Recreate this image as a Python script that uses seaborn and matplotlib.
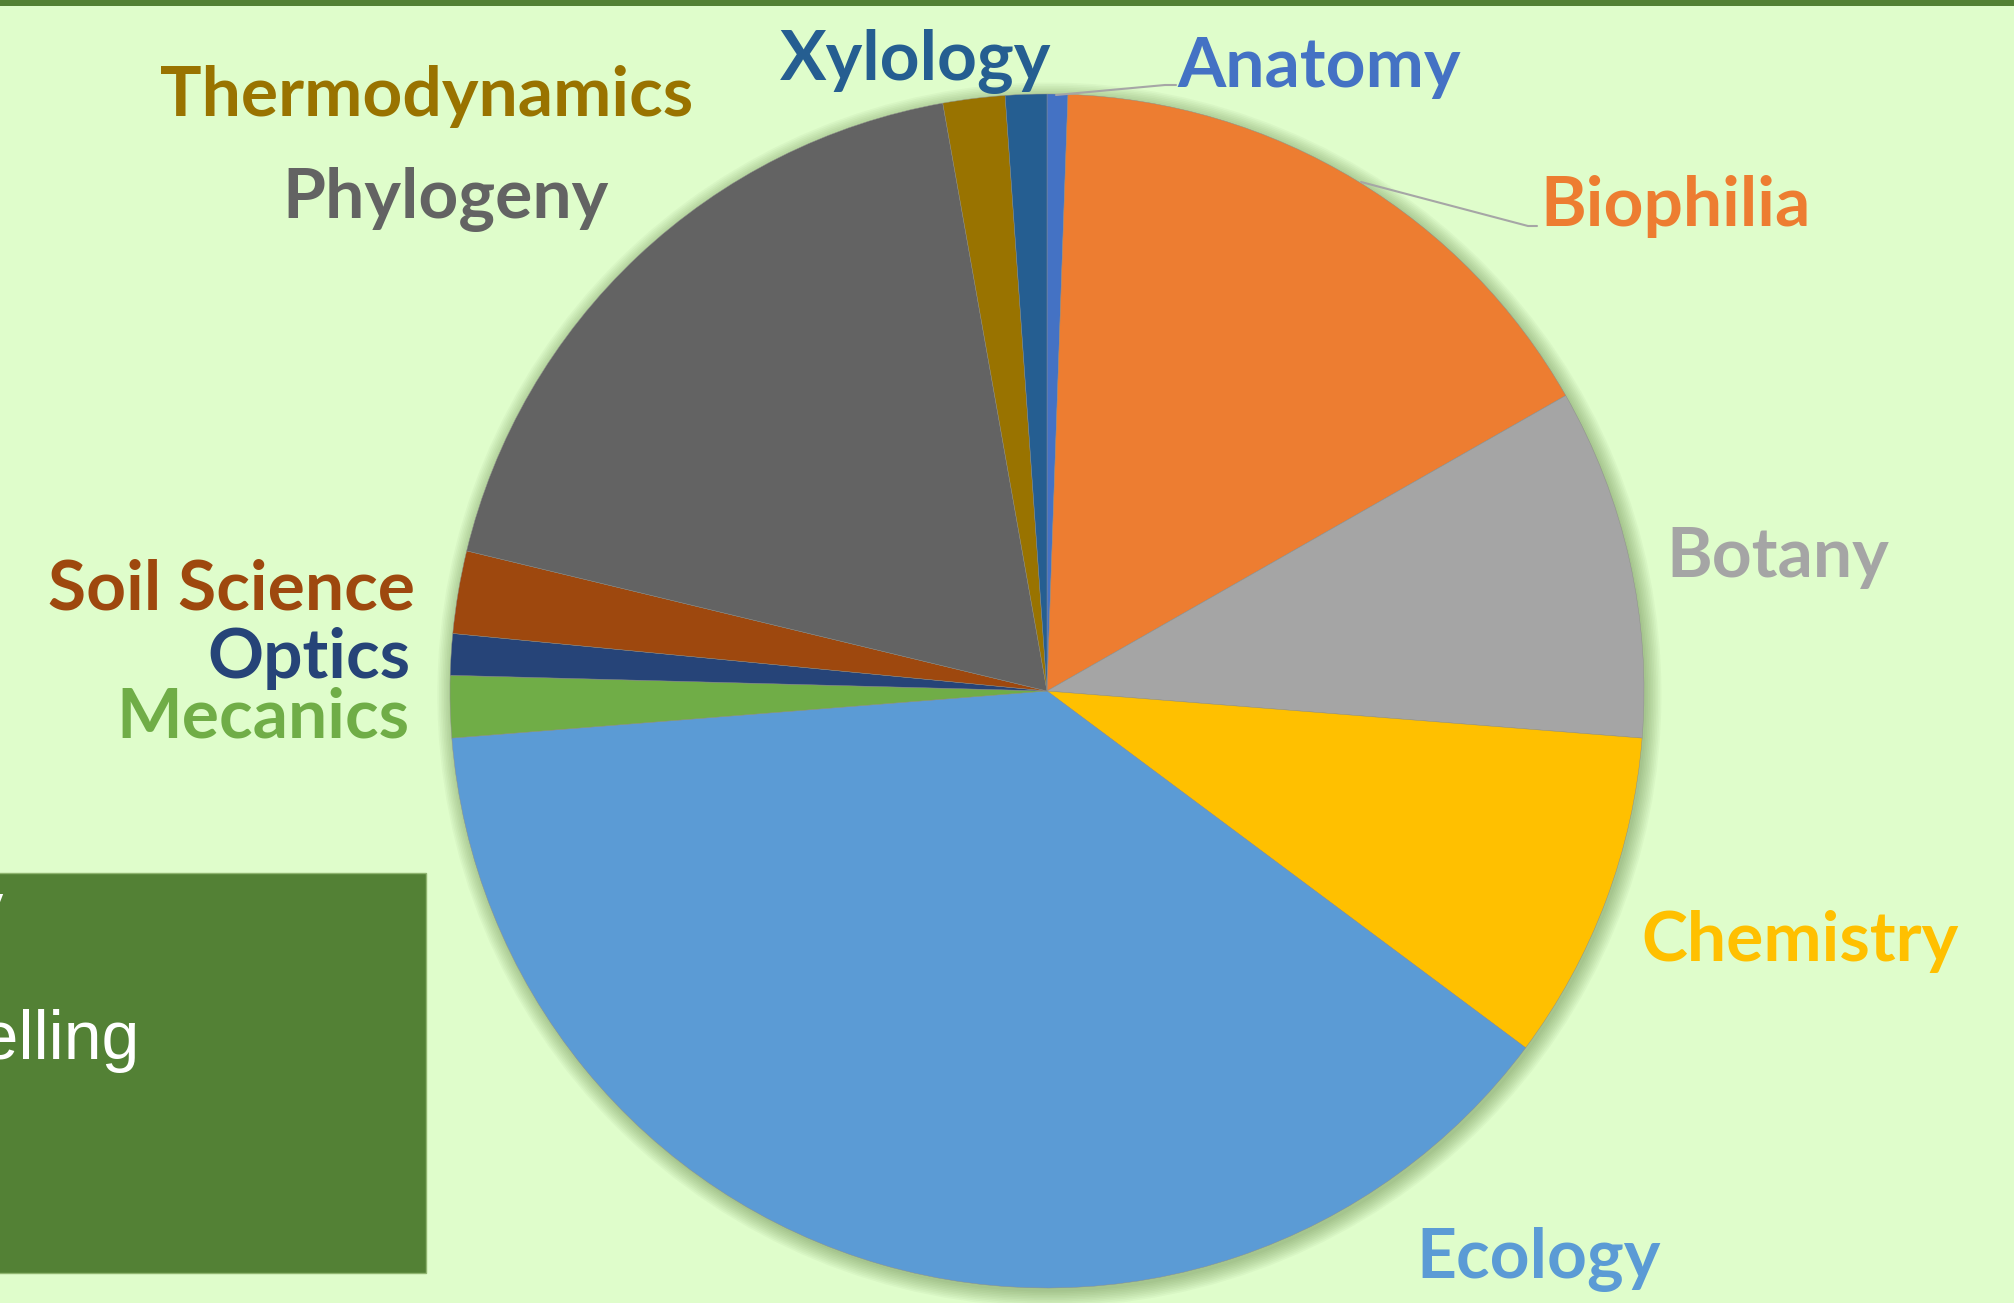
import matplotlib
matplotlib.use("Agg")
import matplotlib.pyplot as plt
import matplotlib.patches as mpatches
import seaborn as sns

# slice data, clockwise from 12 o'clock
subjects = ["Anatomy", "Biophilia", "Botany", "Chemistry", "Ecology", "Mecanics",
            "Optics", "Soil Science", "Phylogeny", "Thermodynamics", "Xylology"]
counts = [1, 29, 17, 16, 69, 3, 2, 4, 33, 3, 2]
slice_colors = ["#4472C4", "#ED7D31", "#A5A5A5", "#FFC000", "#5B9BD5", "#70AD47",
                "#264478", "#9E480E", "#636363", "#997300", "#255E91"]

# label placement in pixels (x, baseline y, alignment)
label_pos = {
    "Anatomy": (1319, 87, "center"),
    "Biophilia": (1676, 226, "center"),
    "Botany": (1778, 577, "center"),
    "Chemistry": (1800, 961, "center"),
    "Ecology": (1539, 1278, "center"),
    "Mecanics": (409, 738, "right"),
    "Optics": (411, 678, "right"),
    "Soil Science": (415, 610, "right"),
    "Phylogeny": (446, 218, "center"),
    "Thermodynamics": (427, 116, "center"),
    "Xylology": (916, 80, "center"),
}

box_lines = ["Biology", "Modelling"]

bg = "#DFFDCB"
dark_green = "#538135"

sns.set_style("white")
plt.rcParams["font.family"] = ["Lato", "DejaVu Sans"]

W, H = 2014, 1303
fig = plt.figure(figsize=(W / 100, H / 100), dpi=100)
fig.patch.set_facecolor(bg)

# pie axes
cx, cy, r = 1047, 691, 597
ax = fig.add_axes([(cx - r) / W, (H - cy - r) / H, 2 * r / W, 2 * r / H])
ax.axis("off")

palette = sns.color_palette(slice_colors)
wedges, _ = ax.pie(counts, colors=palette, startangle=90, counterclock=False, radius=1,
                   wedgeprops=dict(linewidth=0.3, edgecolor="#8c8c8c"))
for w in wedges:
    w.set_zorder(3)

# soft shadow around the pie
for k in range(10):
    ax.add_patch(mpatches.Circle((0.004, -0.006), 1.0 + 0.0028 * k, clip_on=False,
                                 color="#4a6b2a", alpha=0.045, lw=0, zorder=1))

ax.set_xlim(-1, 1)
ax.set_ylim(-1, 1)
ax.set_aspect("equal")

# overlay for text, box, border
ov = fig.add_axes([0, 0, 1, 1], zorder=5)
ov.set_xlim(0, W)
ov.set_ylim(H, 0)
ov.axis("off")
ov.patch.set_alpha(0)

ov.add_patch(mpatches.Rectangle((0, 0), W, 6, color=dark_green, lw=0))
ov.add_patch(mpatches.Rectangle((-5, 873), 431, 400, facecolor=dark_green,
                                edgecolor="#8fb56f", lw=1))

ov.text(4, 930, box_lines[0], color="white", fontsize=49, ha="right", va="baseline",
        family=["Liberation Sans", "DejaVu Sans"])
ov.text(140, 1059, box_lines[1], color="white", fontsize=49, ha="right", va="baseline",
        family=["Liberation Sans", "DejaVu Sans"])

for name, col in zip(subjects, slice_colors):
    x, y, ha = label_pos[name]
    ov.text(x, y, name, color=col, fontsize=50, fontweight="bold", ha=ha, va="baseline")

# leader lines
ov.plot([1056, 1165, 1176], [95, 85, 85], color="#a6a6a6", lw=1.5)
ov.plot([1361, 1528, 1537], [182, 226, 226], color="#a6a6a6", lw=1.5)

fig.savefig("out.png", dpi=100, facecolor=bg)
